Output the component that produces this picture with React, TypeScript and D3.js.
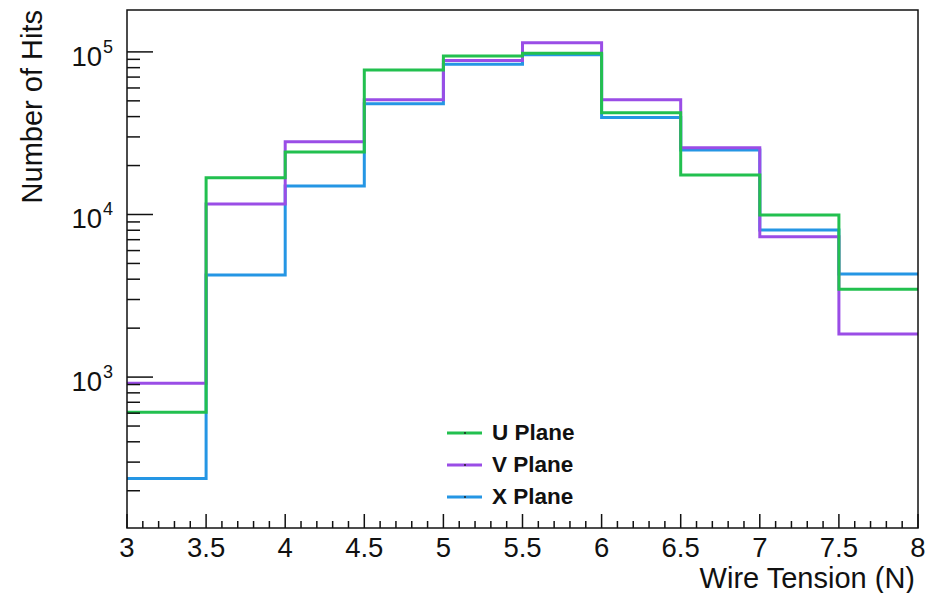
import React from "react";
import * as d3 from "d3";

// Histogram bin edges (N) and hit counts per wire plane
const binEdges = [3, 3.5, 4, 4.5, 5, 5.5, 6, 6.5, 7, 7.5, 8];
const uPlane = [607, 16800, 24200, 77400, 94500, 98100, 42200, 17500, 9930, 3470];
const vPlane = [915, 11600, 28000, 50700, 88400, 114000, 50700, 25700, 7300, 1840];
const xPlane = [238, 4250, 14960, 47900, 84000, 96000, 39500, 24900, 8040, 4300];

const xTickValues = [3, 3.5, 4, 4.5, 5, 5.5, 6, 6.5, 7, 7.5, 8];
const xTickLabels = ["3", "3.5", "4", "4.5", "5", "5.5", "6", "6.5", "7", "7.5", "8"];
const yDecades = [3, 4, 5];

const seriesNames = ["U Plane", "V Plane", "X Plane"];
const seriesColors = ["#22c04f", "#9a4de6", "#2596e4"];

const W = 935;
const H = 593;
const left = 127;
const right = 918;
const top = 10;
const bottom = 528;
const FONT = "'Liberation Sans', Arial, Helvetica, sans-serif";

export default function App() {
  const x = d3.scaleLinear().domain([3, 8]).range([left, right]);
  const y = d3.scaleLog().domain([118, 181000]).range([bottom, top]);

  const stepLine = d3
    .line<[number, number]>()
    .x((d) => x(d[0]))
    .y((d) => y(d[1]))
    .curve(d3.curveStepAfter);

  const pathFor = (vals: number[]) => {
    const pts: [number, number][] = vals.map((v, i) => [binEdges[i], v]);
    pts.push([binEdges[binEdges.length - 1], vals[vals.length - 1]]);
    return stepLine(pts) || "";
  };

  // minor ticks on x every 0.1
  const xMinor: number[] = d3.range(30, 81).map((v) => v / 10);
  // log minor ticks 2..9 per decade inside the domain
  const yMinor: number[] = [];
  [2, 3, 4, 5].forEach((e) => {
    for (let k = 1; k <= 9; k++) {
      const v = k * Math.pow(10, e);
      if (v >= 118 && v <= 181000) yMinor.push(v);
    }
  });

  const series = [xPlane, vPlane, uPlane];
  const seriesCol = [seriesColors[2], seriesColors[1], seriesColors[0]];

  return (
    <svg width={W} height={H} style={{ display: "block", position: "absolute", left: 0, top: 0, background: "#fff" }}>
      <rect x={0} y={0} width={W} height={H} fill="#fff" />
      {/* histogram outlines */}
      {series.map((vals, i) => (
        <path key={i} d={pathFor(vals)} fill="none" stroke={seriesCol[i]} strokeWidth={3} />
      ))}

      {/* frame */}
      <rect x={left} y={top} width={right - left} height={bottom - top} fill="none" stroke="#111" strokeWidth={1.5} />

      {/* x ticks */}
      {xMinor.map((v, i) => {
        const major = Math.abs(v * 2 - Math.round(v * 2)) < 1e-6;
        return (
          <line key={"xm" + i} x1={x(v)} x2={x(v)} y1={bottom} y2={bottom - (major ? 14 : 7)} stroke="#111" strokeWidth={1.5} />
        );
      })}
      {xTickValues.map((v, i) => (
        <text key={"xl" + i} x={x(v)} y={557} textAnchor="middle" fontFamily={FONT} fontSize={27.5} fill="#111">
          {xTickLabels[i]}
        </text>
      ))}

      {/* y ticks */}
      {yMinor.map((v, i) => {
        const major = yDecades.some((e) => Math.abs(v - Math.pow(10, e)) < 1e-6);
        return (
          <line key={"ym" + i} x1={left} x2={left + (major ? 26 : 13)} y1={y(v)} y2={y(v)} stroke="#111" strokeWidth={1.5} />
        );
      })}
      {yDecades.map((e) => {
        const ty = y(Math.pow(10, e));
        return (
          <g key={"yl" + e} fontFamily={FONT} fill="#111">
            <text x={102} y={ty + 14} textAnchor="end" fontSize={27.5}>10</text>
            <text x={103} y={ty + 1} textAnchor="start" fontSize={18}>{e}</text>
          </g>
        );
      })}

      {/* axis titles */}
      <text x={915} y={588} textAnchor="end" fontFamily={FONT} fontSize={29} fill="#111">
        Wire Tension (N)
      </text>
      <text transform="translate(42,10) rotate(-90)" textAnchor="end" fontFamily={FONT} fontSize={29} fill="#111">
        Number of Hits
      </text>

      {/* legend */}
      {seriesNames.map((name, i) => {
        const ly = 433 + i * 32;
        return (
          <g key={"lg" + i}>
            <line x1={447} x2={482} y1={ly} y2={ly} stroke={seriesColors[i]} strokeWidth={3} />
            <circle cx={465} cy={ly} r={1} fill="#222" />
            <text x={492} y={ly + 7} fontFamily={FONT} fontSize={22.5} fontWeight="bold" fill="#111">
              {name}
            </text>
          </g>
        );
      })}
    </svg>
  );
}
